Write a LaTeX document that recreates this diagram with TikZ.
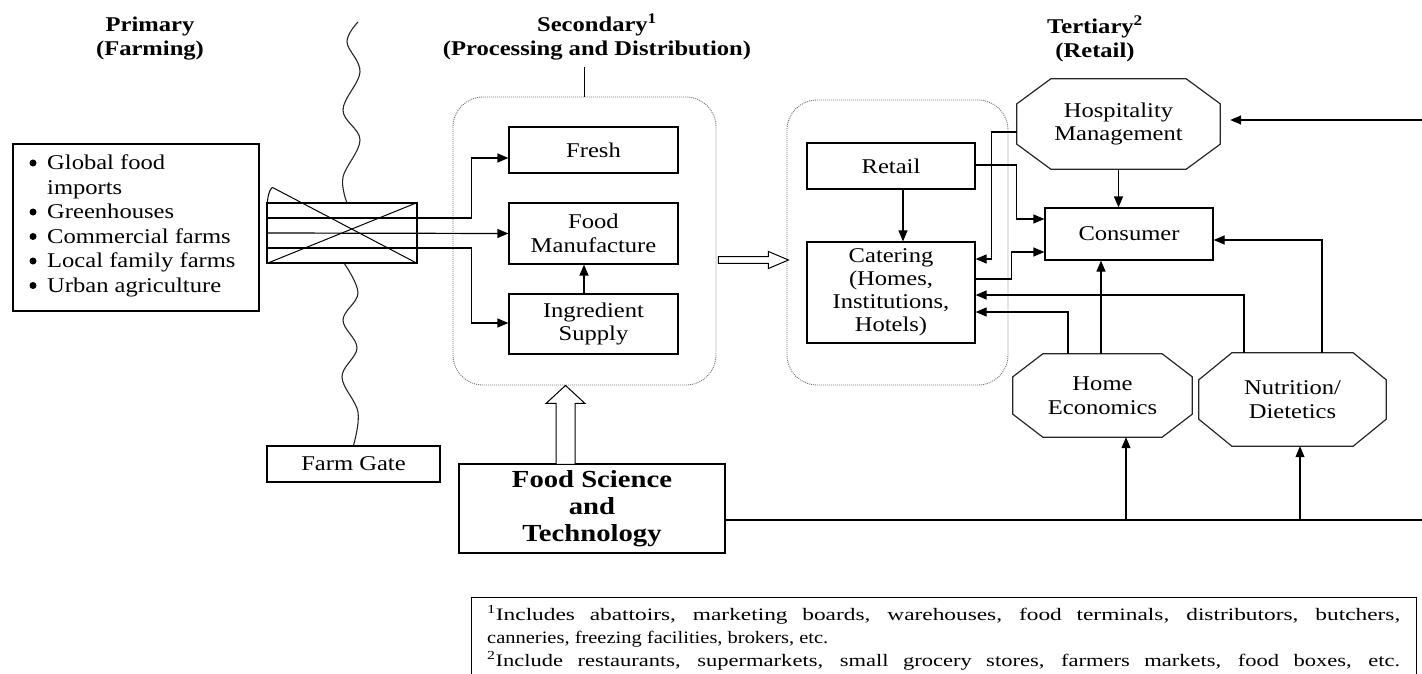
\documentclass[tikz,border=0pt]{standalone}
\usepackage{fontspec}
\usepackage{graphicx}
\setmainfont{Liberation Serif}[FakeStretch=1.17]
\usetikzlibrary{arrows.meta,calc}
\newcommand\octagonpath[3]{%
  \draw[octline] ($(#1.north west)+(#2,0)$) -- ($(#1.north east)+(-#2,0)$) -- ($(#1.north east)+(0,#3)$) -- ($(#1.south east)+(0,-#3)$) -- ($(#1.south east)+(-#2,0)$) -- ($(#1.south west)+(#2,0)$) -- ($(#1.south west)+(0,-#3)$) -- ($(#1.north west)+(0,#3)$) -- cycle;}
\tikzset{
  ln/.style={line width=1.2pt, draw=black},
  arr/.style={ln, -{Triangle[length=11pt,width=9pt]}},
  sz/.style 2 args={minimum width=#1, minimum height=#2},
  boxn/.style={draw=black, line width=1.2pt, rectangle, inner sep=0pt, align=center, font=\fontsize{21}{23.5}\selectfont},
  octn/.style={rectangle, inner sep=0pt, align=center, font=\fontsize{21}{23.5}\selectfont},
  octline/.style={draw=black!85, line width=1.2pt},
  dotbox/.style={draw=black!55, line width=0.9pt, dash pattern=on 1pt off 1pt, rounded corners=30pt, rectangle, inner sep=0pt},
  ttl/.style={align=center, inner sep=0pt, font=\fontsize{21}{24}\selectfont\bfseries},
  hollow/.style={draw=black, line width=1pt, fill=white},
  txt/.style={anchor=base west, inner sep=0pt, font=\fontsize{21}{24}\selectfont},
  fn/.style={anchor=base west, inner sep=0pt, font=\fontsize{17.5}{22}\selectfont},
  bul/.style={circle, fill=black, inner sep=0pt, minimum size=7pt},
  wavy/.style={draw=black!85, line width=1.1pt},
}
\begin{document}
\begin{tikzpicture}[x=1pt,y=-1pt]
\useasboundingbox (0,0) rectangle (1422,674);

% titles
\node[ttl] (tprim) at (150,39) {Primary\\(Farming)};
\node[ttl] (tsec) at (597,37) {Secondary\textsuperscript{1}\\(Processing and Distribution)};
\node[ttl] (tter) at (1095,39) {Tertiary\textsuperscript{2}\\(Retail)};

% wavy boundary line
\node[boxn, sz={173}{36}] (farmgate) at (353.5,464) {Farm Gate};
\draw[wavy] plot[smooth, tension=0.6] coordinates {(358,22) (347,42) (360,72) (343,110) (360,140) (343,177) (347,203)};
\draw[wavy] plot[smooth, tension=0.6] coordinates {(344,263) (358,293) (343,320) (357,348) (342,377) (358,412) (farmgate.north)};

% source list
\node[draw=black, line width=1.2pt, rectangle, inner sep=0pt, sz={246}{167}] (src) at (136,227.5) {};
\node[bul] (b1) at (33,163) {};
\node[bul] (b2) at (33,212) {};
\node[bul] (b3) at (33,236.5) {};
\node[bul] (b4) at (33,261) {};
\node[bul] (b5) at (33,285.5) {};
\node[txt] (l1) at (47,170) {Global food};
\node[txt] (l1b) at (47,194) {imports};
\node[txt] (l2) at (47,218.5) {Greenhouses};
\node[txt] (l3) at (47,243) {Commercial farms};
\node[txt] (l4) at (47,267.5) {Local family farms};
\node[txt] (l5) at (47,292) {Urban agriculture};

% crossed box
\node[draw=black, line width=1.2pt, fill=white, rectangle, inner sep=0pt, sz={150}{60}] (xbox) at (342,233) {};
\draw[ln, line width=1pt] (xbox.south west) -- (xbox.north east);
\draw[ln, line width=1pt] ($(xbox.north west)+(6,-15)$) -- (xbox.south east);
\draw[ln, line width=1pt] ($(xbox.north west)+(1,15)$) .. controls ($(xbox.north west)+(0,-2)$) and ($(xbox.north west)+(2,-12)$) .. ($(xbox.north west)+(6,-15)$);

% secondary
\node[dotbox, sz={263}{288}] (secbox) at (584.5,241) {};
\node[boxn, sz={169}{46}] (fresh) at (593.5,150) {Fresh};
\node[boxn, sz={169}{61}] (manuf) at (593.5,233.5) {Food\\Manufacture};
\node[boxn, sz={169}{60}] (ingr) at (593.5,324) {Ingredient\\Supply};
\draw[ln] (secbox.north) -- ++(0,-30);
\draw[arr] ($(xbox.west)+(0,-15)$) -- ++(205,0) |- ($(fresh.west)+(0,8)$);
\draw[arr] (xbox.west) -- (manuf.west);
\draw[arr] ($(xbox.west)+(0,15)$) -- ++(205,0) |- ($(ingr.west)+(0,-1)$);
\draw[arr] ($(ingr.north)+(-9.5,0)$) -- ($(manuf.south)+(-9.5,0)$);

% tertiary
\node[dotbox, sz={221}{285}] (terbox) at (897.5,242.5) {};
\node[boxn, sz={168}{46}] (retail) at (891,166) {Retail};
\node[boxn, sz={168}{101}, font=\fontsize{21}{23}\selectfont] (catering) at (891,292.5) {Catering\\(Homes,\\Institutions,\\Hotels)};
\node[boxn, sz={168}{52}] (consumer) at (1129,234) {Consumer};
\node[octn, sz={203}{90}] (hosp) at (1118.5,124) {Hospitality\\Management};
\octagonpath{hosp}{34}{25}
\node[octn, sz={179}{83}] (homeec) at (1102.5,395.5) {Home\\Economics};
\octagonpath{homeec}{30}{23}
\node[octn, sz={187}{93}] (nutr) at (1292.5,399.5) {Nutrition/\\Dietetics};
\octagonpath{nutr}{33}{27}

% hollow arrows
\coordinate (ha) at ($(secbox.east)+(2,19)$);
\draw[hollow, shift={(ha)}] (0,-3.3) -- (50,-3.3) -- (50,-8.5) -- (70,0) -- (50,8.5) -- (50,3.3) -- (0,3.3) -- cycle;
\node[boxn, sz={266}{89}, font=\fontsize{24.5}{27}\selectfont\bfseries] (fst) at (592,508.5) {Food Science\\and\\Technology};
\coordinate (hb) at ($(secbox.south)+(-19,0)$);
\draw[hollow, shift={(hb)}] (0,0) -- (19.5,18) -- (9.5,18) -- (9.5,79) -- (-9.5,79) -- (-9.5,18) -- (-19.5,18) -- cycle;

% tertiary connectors
\draw[arr] ($(retail.south)+(12,0)$) -- ($(retail.south |- catering.north)+(12,0)$);
\draw[arr] ($(hosp.west)+(0,8)$) -- ++(-25,0) |- ($(catering.east)+(0,-33.5)$);
\draw[arr] ($(retail.east)+(0,-1)$) -- ++(41,0) |- ($(consumer.west)+(0,-15)$);
\draw[arr] ($(catering.east)+(0,-13.5)$) -- ++(36,0) |- ($(consumer.west)+(0,18)$);
\draw[arr] (hosp.south) -- (hosp.south |- consumer.north);
\draw[arr] ($(homeec.north)+(-1.5,0)$) -- ($(homeec.north |- consumer.south)+(-1.5,0)$);
\draw[arr] ($(homeec.north)+(-34.5,0)$) |- ($(catering.east)+(0,19.5)$);
\draw[arr] ($(nutr.north)+(-48.5,0)$) |- ($(catering.east)+(0,2.5)$);
\draw[arr] ($(nutr.north)+(29.5,0)$) |- ($(consumer.east)+(0,6)$);
\coordinate (rtop) at (1422,120);
\draw[arr] (rtop) -- ($(hosp.east)+(10,-4)$);
\coordinate (rbot) at (1422,520);
\draw[ln] ($(fst.east)+(0,11.5)$) -- (rbot);
\draw[arr] ($(homeec.south)+(23.5,83)$) -- ($(homeec.south)+(23.5,0)$);
\draw[arr] ($(nutr.south)+(7.5,74)$) -- ($(nutr.south)+(7.5,0)$);

% footnotes
\node[draw=black, line width=1.2pt, rectangle, inner sep=0pt, anchor=north west, sz={945}{90}] (fnbox) at (471,597) {};
\node[fn] (fn1) at (487,620) {\scalebox{1.14}[1]{\makebox[801pt][s]{\textsuperscript{1}Includes abattoirs, marketing boards, warehouses, food terminals, distributors, butchers,}}};
\node[fn] (fn2) at (487,643) {canneries, freezing facilities, brokers, etc.};
\node[fn] (fn3) at (487,666) {\scalebox{1.1}[1]{\makebox[830pt][s]{\textsuperscript{2}Include restaurants, supermarkets, small grocery stores, farmers markets, food boxes, etc.}}};
\end{tikzpicture}
\end{document}
